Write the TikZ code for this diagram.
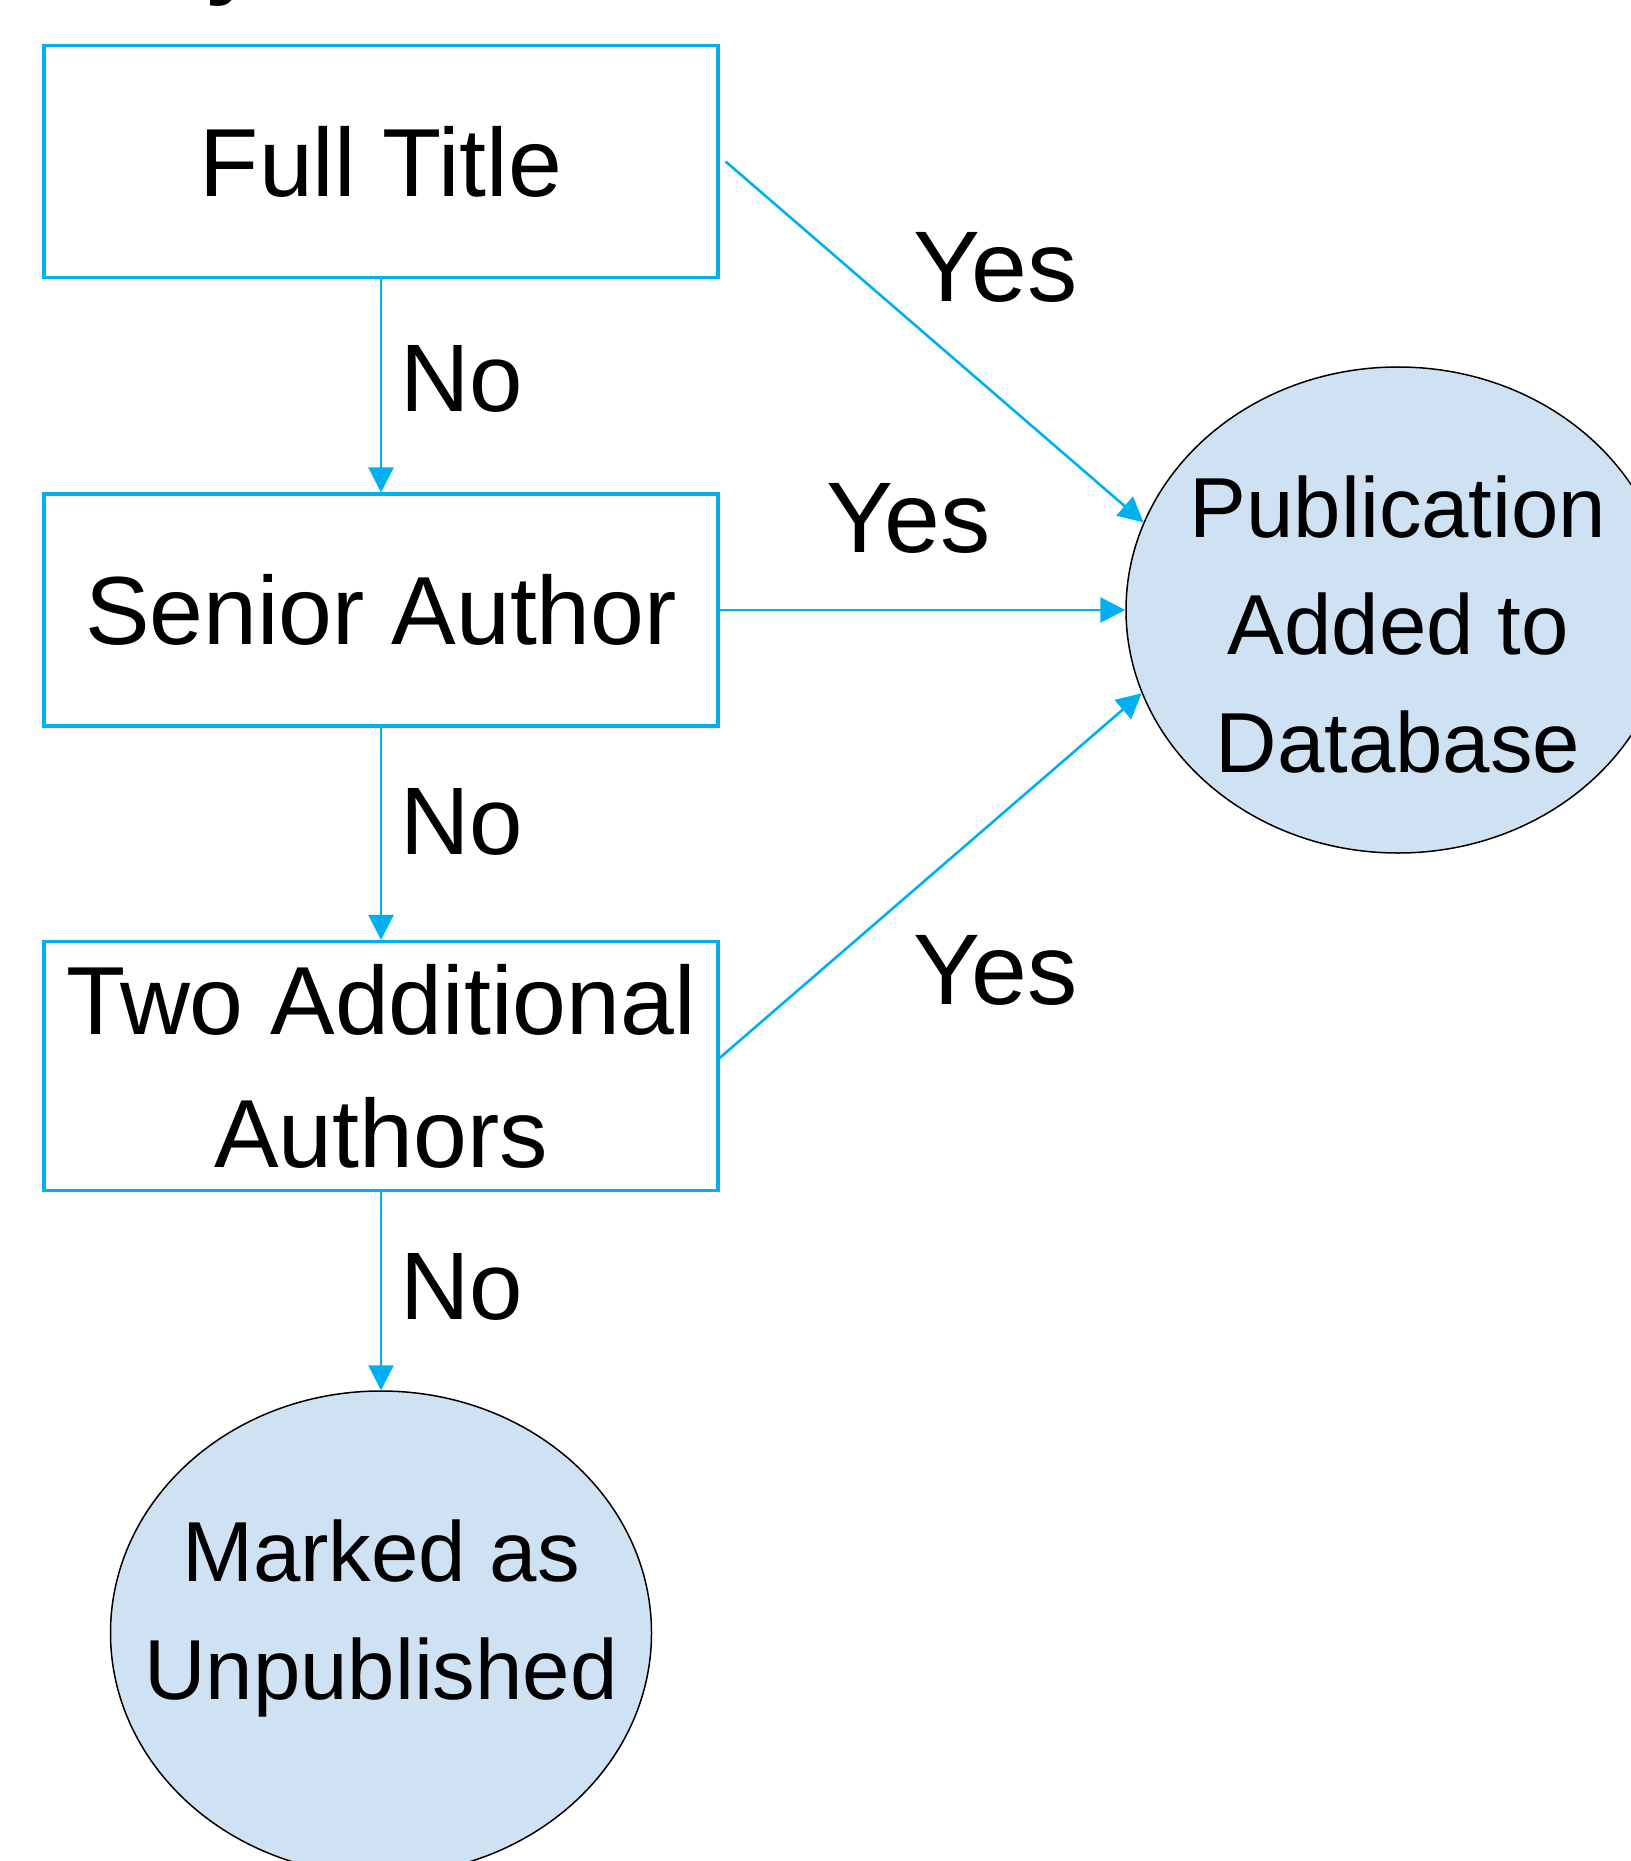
\documentclass[tikz,border=0pt]{standalone}
\usepackage{fontspec}
\setmainfont{Liberation Sans}
\usetikzlibrary{shapes.geometric,arrows.meta}
\definecolor{lblue}{RGB}{0,176,240}
\definecolor{efill}{RGB}{207,226,243}
\begin{document}
\begin{tikzpicture}[x=0.5pt,y=-0.5pt,
  box/.style={draw=lblue,line width=1.6pt,minimum width=337pt,inner sep=0pt,align=center,font=\fontsize{48.4}{66.5}\selectfont},
  ellip/.style={ellipse,draw=black,line width=0.75pt,fill=efill,inner sep=0pt},
  conn/.style={draw=lblue,line width=1.3pt,-{Triangle[length=12.5pt,width=12.5pt]}},
  lab/.style={anchor=base west,inner sep=0pt,font=\fontsize{48}{58}\selectfont},
  yeslab/.style={anchor=base west,inner sep=0pt,font=\fontsize{50.2}{60}\selectfont}]
\useasboundingbox (0,0) rectangle (1631,1861);
% cut-off title fragment
\node[anchor=base west,inner sep=0pt,font=\fontsize{48}{58}\selectfont\bfseries] (ttl) at (205,-13) {y};
% boxes
\node[box,minimum height=116pt] (ft) at (381,161.5) {Full Title};
\node[box,minimum height=116pt] (sa) at (381,610) {Senior Author};
\node[box,minimum height=124.5pt] (ta) at (381,1066) {Two Additional\\Authors};
% ellipses
\node[ellip,minimum width=272pt,minimum height=243pt] (pub) at (1398,610) {};
\node[align=center,inner sep=0pt,font=\fontsize{42.6}{58.75}\selectfont] (pubtxt) at (1398,624.5) {Publication\\Added to\\Database};
\node[ellip,minimum width=270.5pt,minimum height=242pt] (mk) at (381,1633) {};
\node[align=center,inner sep=0pt,font=\fontsize{42.6}{59}\selectfont] (mktxt) at (381,1618) {Marked as\\Unpublished};
% connectors
\draw[conn] (ft.south) -- (sa.north);
\draw[conn] (sa.south) -- (ta.north);
\draw[conn] (ta.south) -- (mk.north);
\draw[conn] ([xshift=3pt]ft.east) -- (pub.161);
\draw[conn] (sa.east) -- (pub.west);
\draw[conn] ([yshift=4pt]ta.east) -- (pub.198);
% labels
\node[lab] (no1) at (400,412) {No};
\node[lab] (no2) at (400,854) {No};
\node[lab] (no3) at (400,1319) {No};
\node[yeslab] (yes1) at (913,302) {Yes};
\node[yeslab] (yes2) at (826,552) {Yes};
\node[yeslab] (yes3) at (913,1004) {Yes};
\end{tikzpicture}
\end{document}
